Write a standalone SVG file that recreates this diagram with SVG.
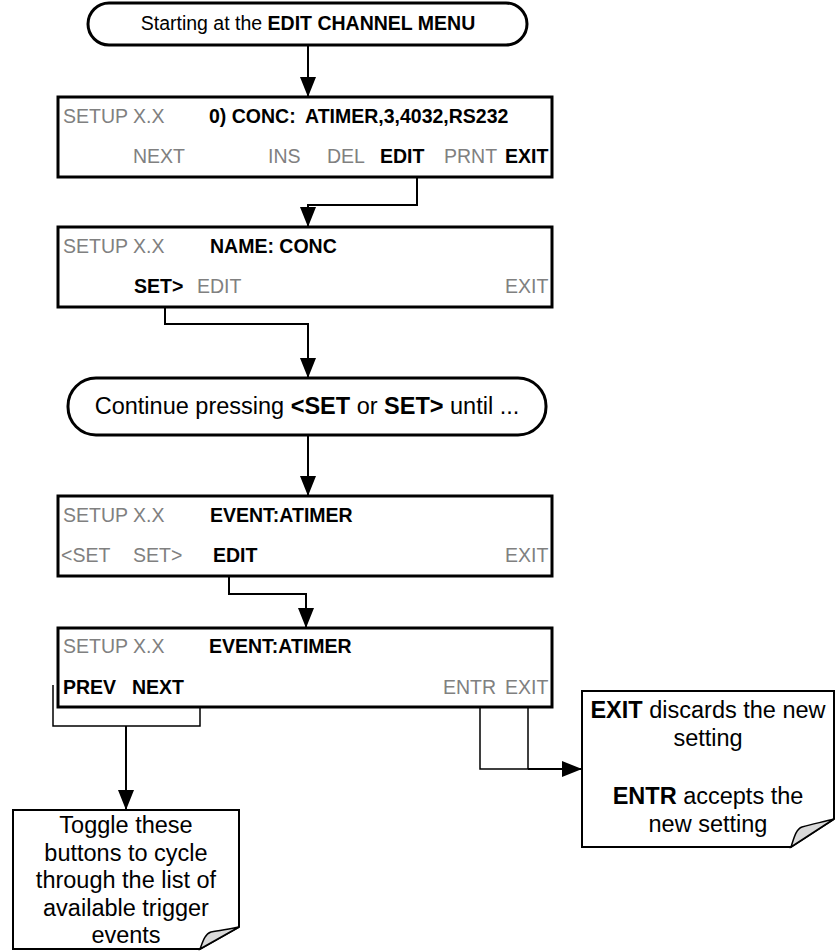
<svg xmlns="http://www.w3.org/2000/svg" width="835" height="951" viewBox="0 0 835 951">
<style>
text{font-family:"Liberation Sans",Arial,sans-serif;fill:#000}
.lcd{font-size:19.5px}
.g{fill:#808080}
.b{font-weight:bold}
.box{fill:#fff;stroke:#000;stroke-width:3}
.term{fill:#fff;stroke:#000;stroke-width:3}
.note{fill:#fff;stroke:#000;stroke-width:2}
.curl{fill:#d9d9d9;stroke:#000;stroke-width:1.5}
.c{fill:none;stroke:#000;stroke-width:2}
.cl{fill:none;stroke:#000;stroke-width:1.5}
.big{font-size:23.5px}
</style>
<defs>
<marker id="ah" markerUnits="userSpaceOnUse" markerWidth="20" markerHeight="16" refX="20" refY="8" orient="auto">
<path d="M0,0 L20,8 L0,16 Z" fill="#000"/>
</marker>
</defs>

<g id="connectors">
<path class="c" d="M308,45 V97" marker-end="url(#ah)"/>
<path class="c" d="M417,167 V205 H308 V227" marker-end="url(#ah)"/>
<path class="c" d="M165,297 V324 H308 V378" marker-end="url(#ah)"/>
<path class="c" d="M308,435 V496" marker-end="url(#ah)"/>
<path class="c" d="M229,567 V594 H306 V628" marker-end="url(#ah)"/>
<path class="cl" d="M53,685 V726 H200 V685"/>
<path class="c" d="M126,726 V810" marker-end="url(#ah)"/>
<path class="cl" d="M480,698 V769 H528"/>
<path class="cl" d="M528,698 V769"/>
<path class="c" d="M528,769 H582" stroke-width="2.5" marker-end="url(#ah)"/>
</g>

<g id="start">
<rect class="term" x="88" y="3" width="439" height="42" rx="21" ry="21"/>
<text x="308" y="30" font-size="19.5" text-anchor="middle">Starting at the <tspan class="b">EDIT CHANNEL MENU</tspan></text>
</g>

<g id="menu1">
<rect class="box" x="58" y="97" width="494" height="80"/>
<text class="lcd g" x="63" y="123">SETUP X.X</text>
<text class="lcd b" x="209" y="123">0) CONC:</text>
<text class="lcd b" x="305" y="123">ATIMER,3,4032,RS232</text>
<text class="lcd g" x="133" y="163">NEXT</text>
<text class="lcd g" x="268" y="163">INS</text>
<text class="lcd g" x="327" y="163">DEL</text>
<text class="lcd b" x="380" y="163">EDIT</text>
<text class="lcd g" x="444" y="163">PRNT</text>
<text class="lcd b" x="505" y="163">EXIT</text>
</g>

<g id="menu2">
<rect class="box" x="58" y="227" width="494" height="80"/>
<text class="lcd g" x="63" y="253">SETUP X.X</text>
<text class="lcd b" x="210" y="253">NAME: CONC</text>
<text class="lcd b" x="134" y="293">SET&gt;</text>
<text class="lcd g" x="197" y="293">EDIT</text>
<text class="lcd g" x="505" y="293">EXIT</text>
</g>

<g id="continue">
<rect class="term" x="68" y="378" width="478" height="57" rx="28" ry="28"/>
<text class="big" x="307" y="414" text-anchor="middle">Continue pressing <tspan class="b">&lt;SET</tspan> or <tspan class="b">SET&gt;</tspan> until ...</text>
</g>

<g id="menu3">
<rect class="box" x="58" y="496" width="494" height="80"/>
<text class="lcd g" x="63" y="522">SETUP X.X</text>
<text class="lcd b" x="210" y="522">EVENT:ATIMER</text>
<text class="lcd g" x="61" y="562">&lt;SET</text>
<text class="lcd g" x="133" y="562">SET&gt;</text>
<text class="lcd b" x="213" y="562">EDIT</text>
<text class="lcd g" x="505" y="562">EXIT</text>
</g>

<g id="menu4">
<rect class="box" x="58" y="628" width="494" height="79"/>
<text class="lcd g" x="63" y="653">SETUP X.X</text>
<text class="lcd b" x="209" y="653">EVENT:ATIMER</text>
<text class="lcd b" x="63" y="694">PREV</text>
<text class="lcd b" x="132" y="694">NEXT</text>
<text class="lcd g" x="443" y="694">ENTR</text>
<text class="lcd g" x="505" y="694">EXIT</text>
</g>

<g id="note-toggle">
<path class="note" d="M13,810 H239 V927 L200,949 H13 Z"/>
<path class="curl" d="M200,949 C203,941 205,934 211,932 C221,930 230,929 239,927 Z"/>
<g class="big" text-anchor="middle">
<text x="126" y="833">Toggle these</text>
<text x="126" y="861">buttons to cycle</text>
<text x="126" y="888">through the list of</text>
<text x="126" y="916">available trigger</text>
<text x="126" y="943">events</text>
</g>
</g>

<g id="note-exit">
<path class="note" d="M582,691 H834 V819 L791,847 H582 Z"/>
<path class="curl" d="M791,847 C794,838 796,829 802,827 C812,824 823,822 834,819 Z"/>
<g class="big" text-anchor="middle">
<text x="708" y="718"><tspan class="b">EXIT</tspan> discards the new</text>
<text x="708" y="746">setting</text>
<text x="708" y="804"><tspan class="b">ENTR</tspan> accepts the</text>
<text x="708" y="832">new setting</text>
</g>
</g>
</svg>
